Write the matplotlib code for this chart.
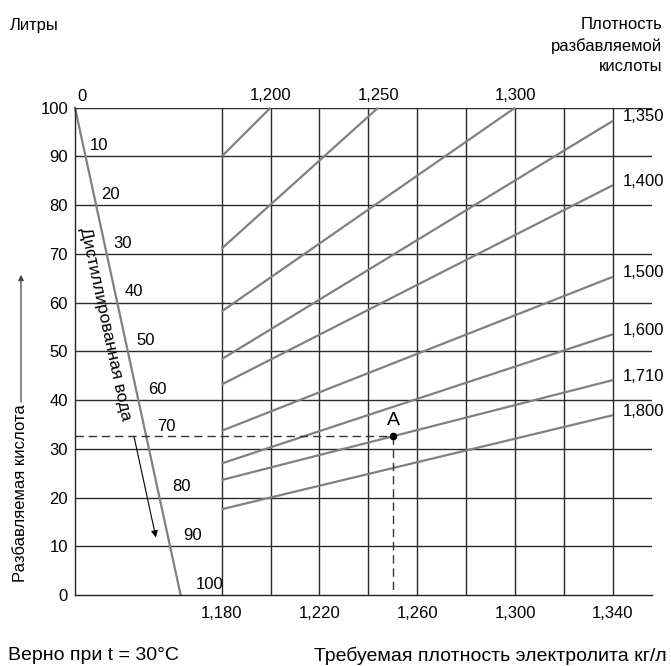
import numpy as np
import matplotlib
matplotlib.use('Agg')
import matplotlib.pyplot as plt

plt.rcParams['font.family'] = ['Liberation Sans', 'DejaVu Sans']

# acid density lines: value at 1,180 and end point
acid_labels = ['1,200', '1,250', '1,300', '1,350', '1,400', '1,500', '1,600', '1,710', '1,800']
acid_y_start = [90.0, 71.1, 58.2, 48.4, 43.2, 33.7, 27.0, 23.6, 17.6]
acid_x_end = [1.200, 1.244, 1.300, 1.340, 1.340, 1.340, 1.340, 1.340, 1.340]
acid_y_end = [100.0, 100.0, 100.0, 97.3, 84.1, 65.3, 53.5, 44.1, 36.9]
acid_x_start = 1.18

# distilled water scale
water_x = [1.120, 1.1632]
water_y = [100, 0]
water_liters = [0, 10, 20, 30, 40, 50, 60, 70, 80, 90, 100]

# example point A
a_x = 1.2501
a_y = 32.6

x_grid = [1.18, 1.20, 1.22, 1.24, 1.26, 1.28, 1.30, 1.32, 1.34]
x_ticks = [1.18, 1.22, 1.26, 1.30, 1.34]
x_ticklabels = ['1,180', '1,220', '1,260', '1,300', '1,340']
y_ticks = [0, 10, 20, 30, 40, 50, 60, 70, 80, 90, 100]

W, H = 671, 666
fig = plt.figure(figsize=(W / 100, H / 100), dpi=100)
ax = fig.add_axes([75 / W, 71 / H, 577 / W, 487.3 / H])
ax.set_xlim(1.12, 1.356)
ax.set_ylim(0, 100)

for s in ['top', 'right']:
    ax.spines[s].set_visible(False)
for s in ['left', 'bottom']:
    ax.spines[s].set_color('#222222')
    ax.spines[s].set_linewidth(1.0)

grid_col = '#2a2a2a'
for y in y_ticks[1:]:
    ax.axhline(y, color=grid_col, lw=1.0, zorder=1)
ax.vlines(x_grid, 0, 100, color=grid_col, lw=1.0, zorder=1)

ax.set_yticks(y_ticks)
ax.set_xticks(x_ticks)
ax.set_xticklabels(x_ticklabels)
ax.tick_params(axis='y', length=0, pad=5, labelsize=12)
ax.tick_params(axis='x', length=0, pad=8, labelsize=12)

line_col = '#808080'
for lab, ys, xe, ye in zip(acid_labels, acid_y_start, acid_x_end, acid_y_end):
    ax.plot([acid_x_start, xe], [ys, ye], color=line_col, lw=1.6,
            solid_capstyle='butt', zorder=2, clip_on=False)
    if ye >= 100:
        ax.text(xe, 101.6, lab, ha='center', va='baseline', fontsize=12)
    else:
        ax.text(1.3442, ye + 0.8, lab, ha='left', va='center', fontsize=12)

# water line and its scale
ax.plot(water_x, water_y, color=line_col, lw=1.6, zorder=2, clip_on=False)
slope = (water_x[1] - water_x[0]) / (water_y[0] - water_y[1])
px = (1.356 - 1.12) / 577
for w in water_liters:
    y = 102.2 - w
    if w == 70:
        y += 2.3
    xl = water_x[0] + (100 - y) * slope + (5 + 0.12 * w) * px
    ax.text(xl, y, str(w), ha='left', va='center', fontsize=12, clip_on=False)

ax.text(1.1323, 55.6, 'Дистиллированная вода', rotation=-77.8,
        rotation_mode='anchor', ha='center', va='center', fontsize=12.5)
ax.annotate('', xy=(1.1531, 11.8), xytext=(1.1441, 32.6),
            arrowprops=dict(arrowstyle='-|>', color='black', lw=0.8,
                            mutation_scale=10, shrinkA=0, shrinkB=0))

# point A
dash = (0, (6, 3.5))
ax.plot([1.12, a_x], [a_y, a_y], ls=dash, color='#333333', lw=1.0, zorder=3)
ax.plot([a_x, a_x], [a_y, 0], ls=dash, color='#333333', lw=1.0, zorder=3)
ax.plot(a_x, a_y, 'o', ms=4.5, color='black', zorder=4)
ax.text(a_x + 0.0002, a_y + 3.3, 'A', ha='center', va='center', fontsize=14)

# outer texts
fig.text(9.4 / W, 1 - 25.6 / H, 'Литры', ha='left', va='center', fontsize=12)
fig.text(662 / W, 1 - 17 / H, 'Плотность\nразбавляемой\nкислоты', ha='right',
         va='top', multialignment='right', fontsize=12, linespacing=1.45)
fig.text(8.5 / W, 1 - 655.5 / H, 'Верно при t = 30°C', ha='left', va='center',
         fontsize=14)
fig.text(667 / W, 1 - 655.5 / H, 'Требуемая плотность электролита кг/л', ha='right',
         va='center', fontsize=14)
fig.text(21 / W, 1 - 493 / H, 'Разбавляемая кислота', rotation=90, ha='center',
         va='center', fontsize=12)
fig.patches.append(matplotlib.patches.FancyArrowPatch(
    (21 / W, 1 - 405 / H), (21 / W, 1 - 272 / H), transform=fig.transFigure,
    arrowstyle='-|>', mutation_scale=8, color='#444444', lw=0.9))

fig.savefig('out.png', dpi=100)
